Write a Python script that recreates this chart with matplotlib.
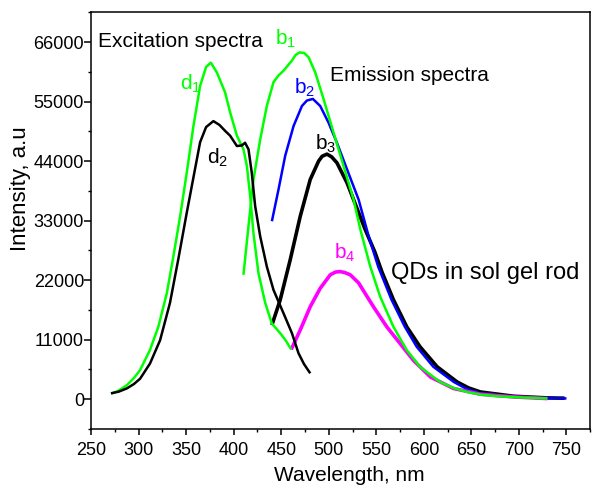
import matplotlib
matplotlib.use("Agg")
import matplotlib.pyplot as plt
from matplotlib.ticker import MultipleLocator

plt.rcParams['font.family'] = ['Liberation Sans', 'DejaVu Sans']
plt.rcParams['mathtext.fontset'] = 'custom'
plt.rcParams['mathtext.rm'] = 'Liberation Sans'
plt.rcParams['mathtext.it'] = 'Liberation Sans'

# excitation spectra (wavelength nm, intensity a.u.)
d1_x = [271, 279, 287.6, 295, 301.6, 312, 320.8, 329.7, 336.6, 343.7, 350.7, 357.7, 364.7, 371, 376, 382.3, 391,
        396.3, 403.4, 410.3, 413.9, 417.4, 420.8, 426.1, 433.2, 440.2, 449, 455, 460.5]
d1_y = [1000, 1600, 2600, 3900, 5400, 9100, 13400, 19600, 26400, 33800, 41900, 50500, 57900, 61400, 62200, 60400,
        56700, 53000, 48700, 46200, 43100, 37500, 30700, 23300, 17800, 14000, 12200, 10800, 9200]
d2_x = [271, 279, 287.6, 295, 301.6, 312, 322.6, 333, 341.9, 350.7, 357.7, 364.7, 371, 378.7, 385, 391, 396.3,
        403.4, 408.6, 412, 415.6, 419, 422.6, 427.9, 434.9, 441.9, 452.4, 461.3, 468.2, 474, 480.5]
d2_y = [1100, 1400, 2000, 2800, 3800, 6600, 10900, 17800, 26000, 34500, 41000, 47500, 50300, 51400, 50700, 49600,
        48700, 46800, 46900, 47400, 46200, 41900, 35700, 30100, 24500, 20200, 15900, 12200, 8500, 6500, 4800]

# emission spectra
b1_x = [410.3, 415.6, 420.8, 427.9, 434.9, 441.9, 447, 452.4, 461.3, 465, 469.3, 474, 478.8, 485.8, 494.5, 505,
        515.6, 526.1, 533.2, 543.7, 554, 568, 582, 596, 617, 631, 645.5, 660, 677, 700, 730]
b1_y = [23000, 32000, 40600, 48000, 54200, 58600, 59800, 60700, 62600, 63600, 64100, 64000, 63200, 60400, 55500,
        49300, 43100, 36900, 31400, 24500, 19000, 13400, 9100, 6000, 3200, 2100, 1350, 850, 560, 350, 150]
b2_x = [440.2, 447.2, 454.2, 463, 471.8, 477, 483.3, 491, 499.8, 508.6, 519.2, 531.4, 542, 552, 566, 580, 592.5,
        610, 631.5, 645, 659.5, 694, 720, 750]
b2_y = [32900, 38800, 45000, 50500, 54200, 55200, 55500, 54200, 51100, 47400, 42500, 36900, 30100, 24500, 18400,
        13400, 9700, 6000, 3200, 1900, 1100, 450, 250, 150]
b3_x = [440.2, 449, 459.5, 470, 480.5, 489.3, 493, 498.1, 503, 508.6, 519.2, 531.4, 538, 548.5, 556, 568, 582, 596,
        614, 635, 647, 659.5, 694.5, 730, 748]
b3_y = [13700, 18400, 25800, 33800, 40600, 44000, 44900, 45300, 44800, 43700, 40000, 34500, 31500, 27200, 23500,
        18400, 13400, 9700, 6000, 3200, 2100, 1350, 560, 250, 200]
b4_x = [460.5, 470, 480.5, 491, 501.6, 507, 512, 517, 522.6, 531.4, 547, 561, 575, 589, 607, 631, 659.5, 694.5, 730]
b4_y = [9200, 12800, 17100, 20500, 23000, 23500, 23600, 23400, 23000, 21500, 17100, 13400, 10300, 7200, 4100, 2000,
        930, 430, 130]

fig = plt.figure(figsize=(5.95, 4.92), dpi=100)
ax = fig.add_axes([0.153, 0.128, 0.839, 0.848])

kw = dict(solid_joinstyle='round', solid_capstyle='butt')
ax.plot(b3_x, b3_y, color='black', lw=2.6, **kw)
ax.plot(b2_x, b2_y, color='#0000ff', lw=1.8, **kw)
ax.plot(b4_x, b4_y, color='#ff00ff', lw=2.6, **kw)
ax.plot(b1_x, b1_y, color='#00ff00', lw=1.8, **kw)
ax.plot(d1_x, d1_y, color='#00ff00', lw=1.8, **kw)
ax.plot(d2_x, d2_y, color='black', lw=1.8, **kw)

ax.set_xlim(250, 775)
ax.set_ylim(-5500, 71600)
ax.xaxis.set_major_locator(MultipleLocator(50))
ax.xaxis.set_minor_locator(MultipleLocator(25))
ax.yaxis.set_major_locator(MultipleLocator(11000))
ax.yaxis.set_minor_locator(MultipleLocator(5500))
ax.set_yticks([0, 11000, 22000, 33000, 44000, 55000, 66000])
ax.tick_params(which='major', direction='out', length=5, width=1.1, labelsize=13)
ax.tick_params(which='minor', direction='out', length=2.5, width=1.0)
ax.tick_params(axis='x', which='major', length=4.5, pad=5)
ax.tick_params(axis='y', which='major', pad=0)
for s in ax.spines.values():
    s.set_linewidth(1.1)

ax.set_xlabel('Wavelength, nm', fontsize=15)
ax.set_ylabel('Intensity, a.u', fontsize=16)
ax.xaxis.set_label_coords(0.517, -0.089)
ax.yaxis.set_label_coords(-0.12, 0.576)

ax.text(257.4, 66200, 'Excitation spectra', fontsize=15, va='center')
ax.text(501.6, 59800, 'Emission spectra', fontsize=15, va='center')
ax.text(565.8, 23300, 'QDs in sol gel rod', fontsize=17, va='center')
ax.text(443.7, 66600, r'b$_1$', fontsize=15, color='#00ff00', va='center')
ax.text(343.7, 58300, r'd$_1$', fontsize=15, color='#00ff00', va='center')
ax.text(371.8, 44700, r'd$_2$', fontsize=15, color='black', va='center')
ax.text(463.7, 57600, r'b$_2$', fontsize=15, color='#0000ff', va='center')
ax.text(485.4, 47200, r'b$_3$', fontsize=15, color='black', va='center')
ax.text(505, 27000, r'b$_4$', fontsize=15, color='#ff00ff', va='center')

fig.savefig('out.png', dpi=100)
